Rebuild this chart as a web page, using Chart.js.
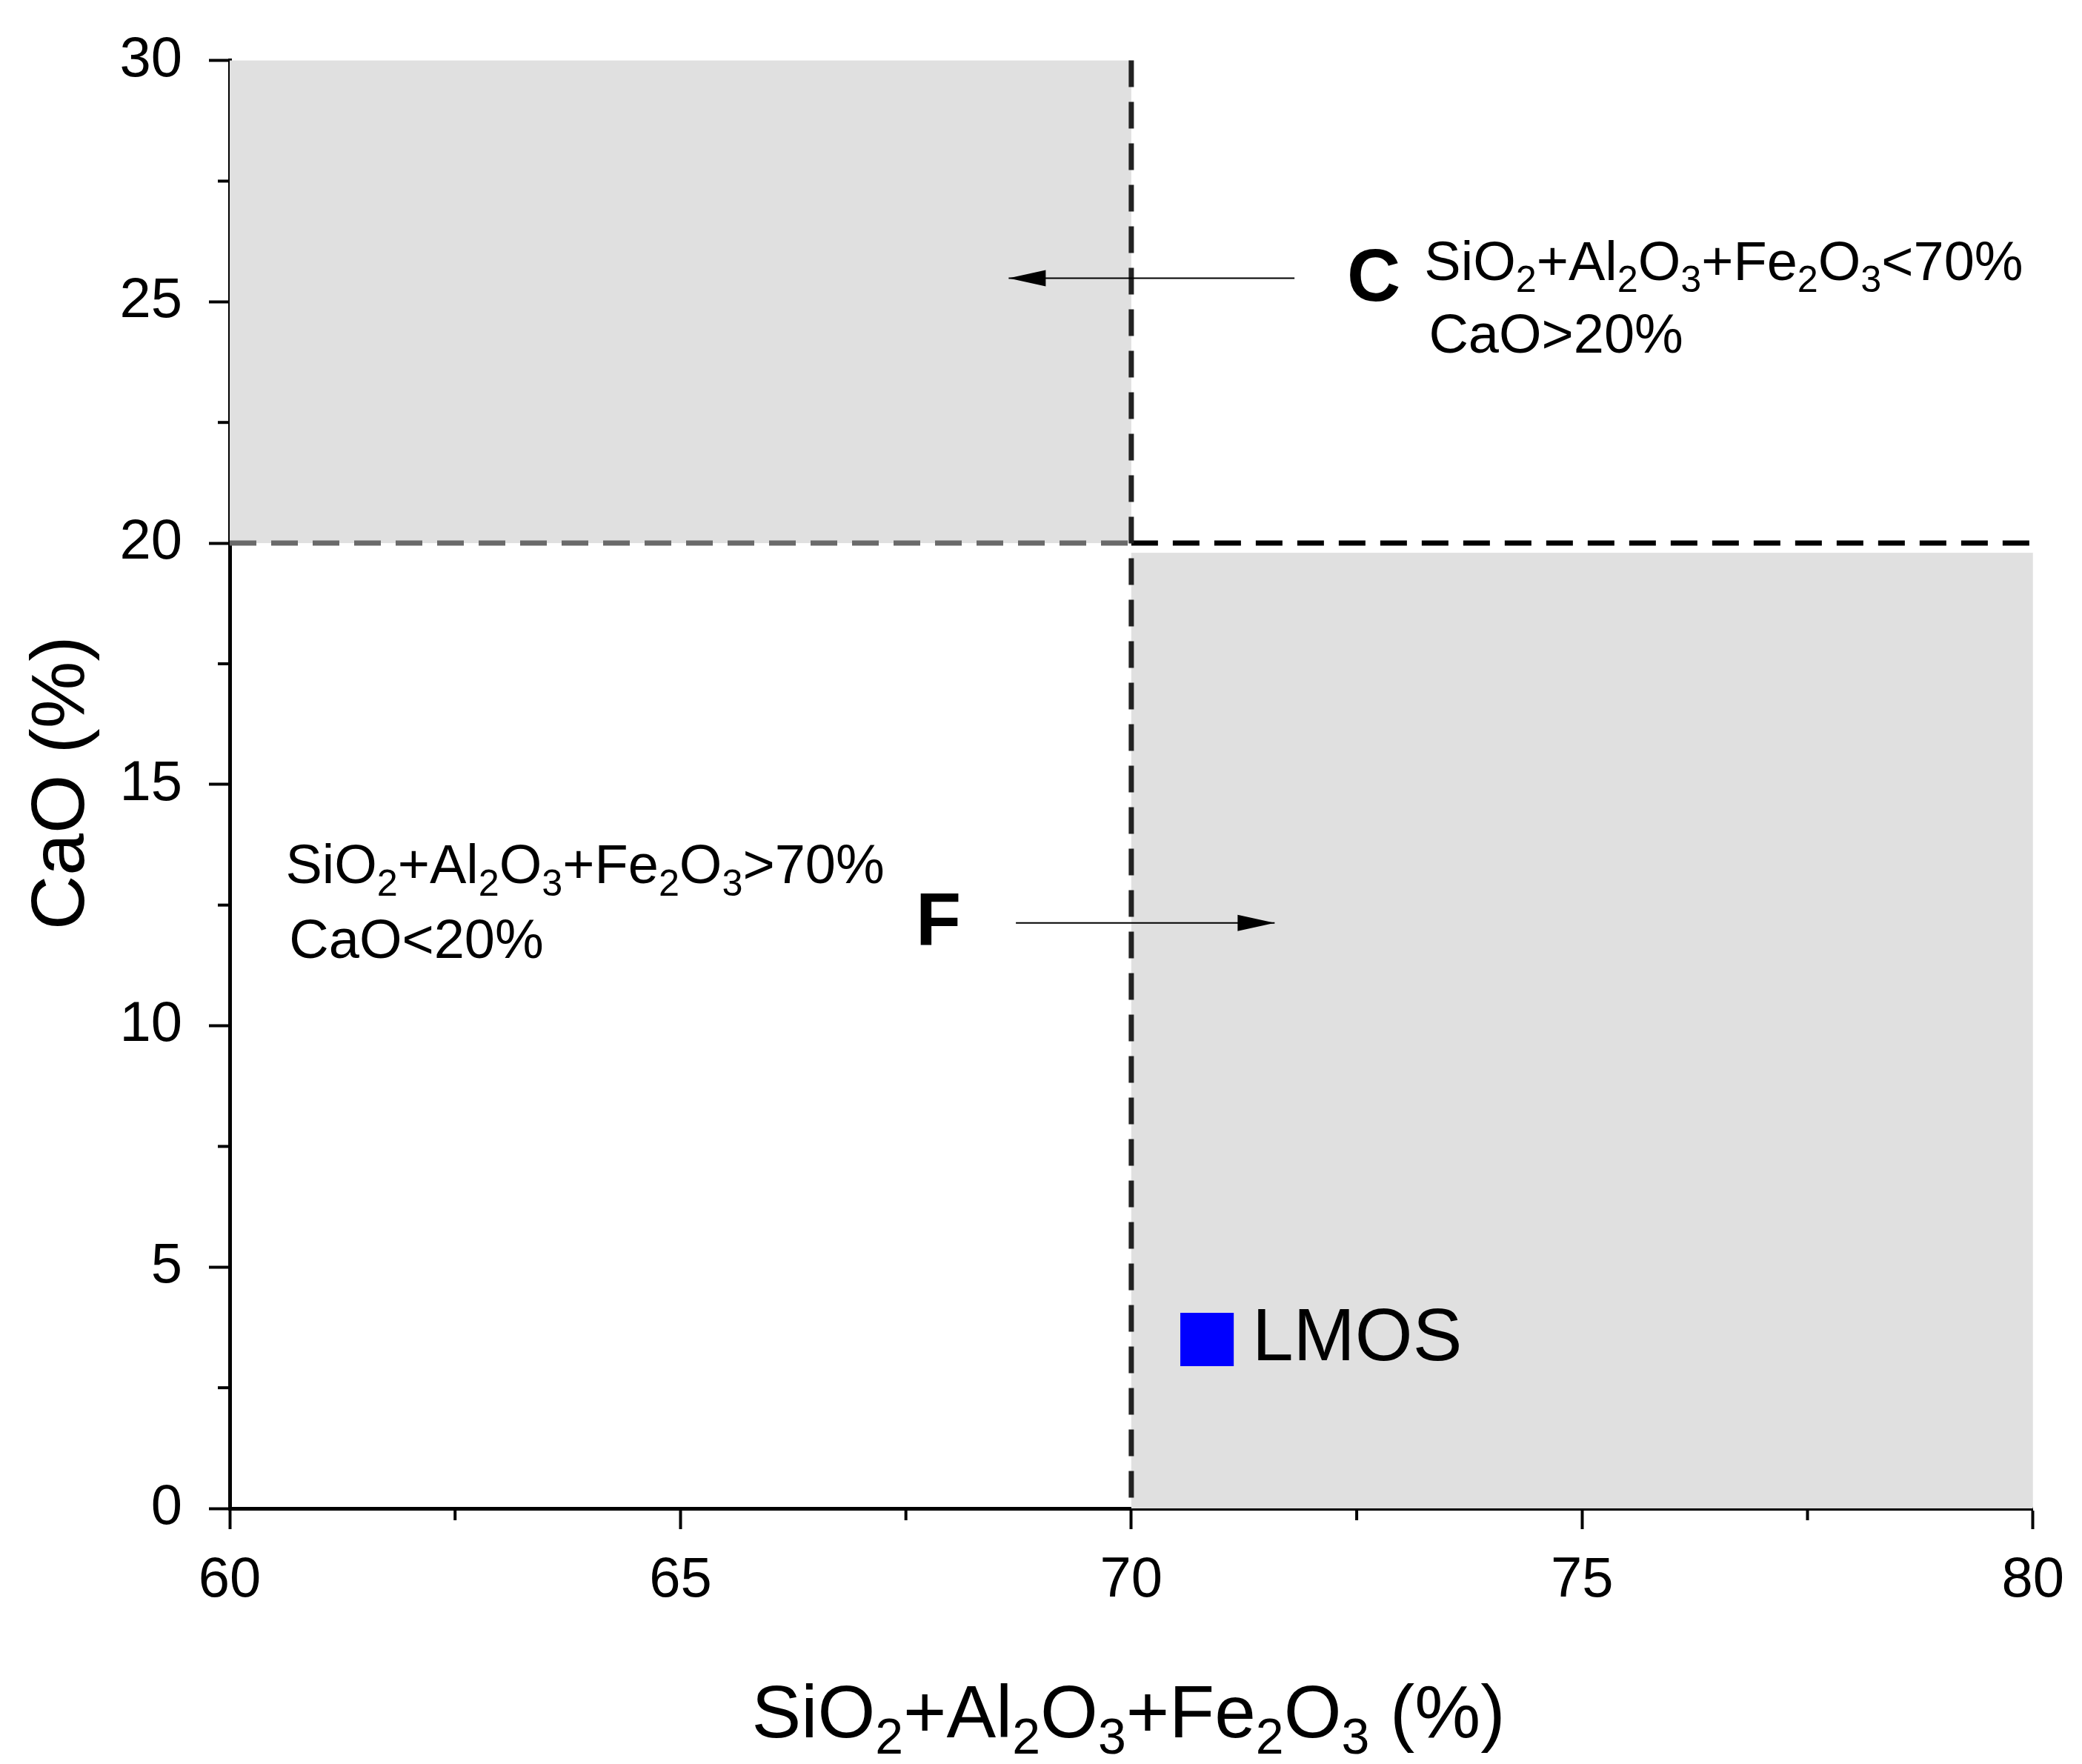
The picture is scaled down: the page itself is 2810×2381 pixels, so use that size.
<!DOCTYPE html>
<html><head><meta charset="utf-8">
<script src="https://cdn.jsdelivr.net/npm/chart.js@4"></script>
<style>html,body{margin:0;padding:0;background:#fff}canvas{display:block}</style>
</head><body>
<div style="width:2810px;height:2381px"><canvas id="c"></canvas></div>
<script>
const xTicks=[60,65,70,75,80];
const yTicks=[0,5,10,15,20,25,30];
const pointLabels=['LMOS'];
const pointX=[70.84];
const pointY=[3.5];
const thresholdX=70, thresholdY=20;
const FONT='"Liberation Sans", Arial, sans-serif';

function drawRich(ctx,segs,x,y,size,align){
  const sub=size*0.68;
  let w=0;
  segs.forEach(s=>{ctx.font=(s[1]?sub:size)+'px '+FONT;w+=ctx.measureText(s[0]).width;});
  let cx=align==='center'?x-w/2:x;
  ctx.textBaseline='alphabetic';ctx.textAlign='left';
  segs.forEach(s=>{ctx.font=(s[1]?sub:size)+'px '+FONT;ctx.fillText(s[0],cx,y+(s[1]?size*0.22:0));cx+=ctx.measureText(s[0]).width;});
}
function formula(op){return [['SiO',0],['2',1],['+Al',0],['2',1],['O',0],['3',1],['+Fe',0],['2',1],['O',0],['3',1],[op,0]];}
function arrow(ctx,x1,y,x2){
  ctx.strokeStyle='#000';ctx.fillStyle='#000';ctx.lineWidth=2;ctx.setLineDash([]);
  ctx.beginPath();ctx.moveTo(x1,y);ctx.lineTo(x2,y);ctx.stroke();
  const d=Math.sign(x2-x1);
  ctx.beginPath();ctx.moveTo(x2,y);ctx.lineTo(x2-d*50,y-11);ctx.lineTo(x2-d*50,y+11);ctx.closePath();ctx.fill();
}
const deco={
  id:'deco',
  beforeDatasetsDraw(ch){
    const c=ch.ctx,xs=ch.scales.x,ys=ch.scales.y;
    const X=v=>xs.getPixelForValue(v),Y=v=>ys.getPixelForValue(v);
    c.save();
    c.fillStyle='#e0e0e0';
    c.fillRect(X(60),Y(30),X(thresholdX)-X(60),Y(thresholdY)-Y(30));
    c.fillRect(X(thresholdX),Y(19.8),X(80)-X(thresholdX),Y(0)-Y(19.8));
    c.lineWidth=7;c.setLineDash([36,20]);
    c.strokeStyle='#6a6a6a';
    c.beginPath();c.moveTo(X(60),Y(thresholdY));c.lineTo(X(thresholdX),Y(thresholdY));c.stroke();
    c.strokeStyle='#000';
    c.beginPath();c.moveTo(X(thresholdX),Y(thresholdY));c.lineTo(X(80),Y(thresholdY));c.stroke();
    c.strokeStyle='#222';
    c.beginPath();c.moveTo(X(thresholdX),Y(30));c.lineTo(X(thresholdX),Y(0));c.stroke();
    c.restore();
  },
  afterDraw(ch){
    const c=ch.ctx,xs=ch.scales.x,ys=ch.scales.y;
    const X=v=>xs.getPixelForValue(v),Y=v=>ys.getPixelForValue(v);
    c.save();
    c.strokeStyle='#000';c.lineWidth=4;c.setLineDash([]);
    for(let v=62.5;v<80;v+=5){c.beginPath();c.moveTo(X(v),Y(0));c.lineTo(X(v),Y(0)+16);c.stroke();}
    for(let v=2.5;v<30;v+=5){c.beginPath();c.moveTo(X(60),Y(v));c.lineTo(X(60)-16,Y(v));c.stroke();}
    c.fillStyle='#000';
    c.font='bold 100px '+FONT;c.textAlign='center';c.textBaseline='middle';
    c.fillText('C',X(72.69),Y(25.45));
    c.fillText('F',X(67.86),Y(12.1));
    drawRich(c,formula('<70%'),X(73.25),Y(25.45),74,'left');
    drawRich(c,[['CaO>20%',0]],X(73.3),Y(23.95),74,'left');
    drawRich(c,formula('>70%'),X(60.62),Y(12.95),74,'left');
    drawRich(c,[['CaO<20%',0]],X(60.66),Y(11.4),74,'left');
    arrow(c,X(71.81),Y(25.49),X(68.64));
    arrow(c,X(68.72),Y(12.13),X(71.59));
    c.font='100px '+FONT;c.textAlign='left';c.textBaseline='middle';
    c.fillText(pointLabels[0],X(71.34),Y(pointY[0]));
    drawRich(c,[['SiO',0],['2',1],['+Al',0],['2',1],['O',0],['3',1],['+Fe',0],['2',1],['O',0],['3',1],[' (%)',0]],1523,2345,100,'center');
    c.translate(85,1057);c.rotate(-Math.PI/2);
    c.font='102px '+FONT;c.textAlign='center';c.textBaseline='middle';
    c.fillText('CaO (%)',0,0);
    c.restore();
  }
};
new Chart(document.getElementById('c'),{
  type:'scatter',
  data:{datasets:[{label:pointLabels[0],data:pointX.map((x,i)=>({x,y:pointY[i]})),
    pointStyle:'rect',pointRadius:51,pointHoverRadius:51,backgroundColor:'#0000ff',borderColor:'#0000ff',borderWidth:0}]},
  options:{responsive:true,maintainAspectRatio:false,animation:false,
    layout:{padding:{left:0,top:68,right:66,bottom:0}},
    plugins:{legend:{display:false},tooltip:{enabled:false}},
    scales:{
      x:{type:'linear',min:60,max:80,afterBuildTicks:s=>{s.ticks=xTicks.map(v=>({value:v}));},
        afterFit:s=>{s.height=345;},
        border:{display:true,color:'#000',width:5},
        grid:{drawOnChartArea:false,drawTicks:true,tickLength:28,tickWidth:4,color:'#000'},
        ticks:{font:{family:FONT,size:76},color:'#000',padding:24}},
      y:{type:'linear',min:0,max:30,afterBuildTicks:s=>{s.ticks=yTicks.map(v=>({value:v}));},
        afterFit:s=>{s.width=310;},
        border:{display:true,color:'#000',width:5},
        grid:{drawOnChartArea:false,drawTicks:true,tickLength:28,tickWidth:4,color:'#000'},
        ticks:{font:{family:FONT,size:76},color:'#000',padding:36}}
    }},
  plugins:[deco]
});
</script>
</body></html>
